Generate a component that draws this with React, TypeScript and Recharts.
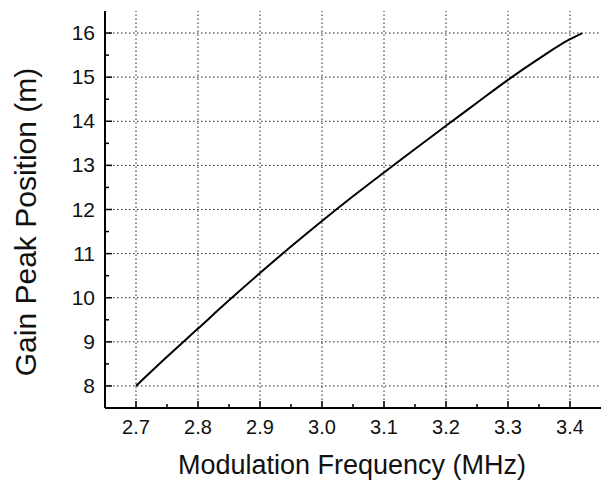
import React from 'react';
import { LineChart, Line, XAxis, YAxis, ReferenceLine, Label } from 'recharts';

// modulation frequency (MHz) and gain peak position (m)
const freq = [2.7, 2.75, 2.8, 2.85, 2.9, 2.95, 3.0, 3.05, 3.1, 3.15, 3.2, 3.25, 3.3, 3.35, 3.4, 3.42];
const gainPeak = [8.0, 8.66, 9.3, 9.94, 10.56, 11.16, 11.74, 12.3, 12.84, 13.37, 13.9, 14.42, 14.94, 15.42, 15.86, 16.0];

const xMajor = [2.7, 2.8, 2.9, 3.0, 3.1, 3.2, 3.3, 3.4];
const xTicks = [2.7, 2.75, 2.8, 2.85, 2.9, 2.95, 3.0, 3.05, 3.1, 3.15, 3.2, 3.25, 3.3, 3.35, 3.4];
const yMajor = [8, 9, 10, 11, 12, 13, 14, 15, 16];
const yTicks = [8, 8.5, 9, 9.5, 10, 10.5, 11, 11.5, 12, 12.5, 13, 13.5, 14, 14.5, 15, 15.5, 16];

const data = freq.map((f, i) => ({ f, g: gainPeak[i] }));

const FONT = '"Liberation Sans", Arial, Helvetica, sans-serif';
const MAJOR = 7;
const MINOR = 4;

const isMajor = (v: number, step: number) => Math.abs(v / step - Math.round(v / step)) < 1e-6;

const BottomTick = ({ x, y, payload }: any) => {
  const major = isMajor(payload.value, 0.1);
  return (
    <g>
      <line x1={x} x2={x} y1={y} y2={y - (major ? MAJOR : MINOR)} stroke="#000" strokeWidth={1.5} />
      {major && (
        <text x={x} y={y + 26} textAnchor="middle" fontSize={20} fontFamily={FONT} fill="#111">
          {payload.value.toFixed(1)}
        </text>
      )}
    </g>
  );
};

const TopTick = ({ x, y, payload }: any) => {
  const major = isMajor(payload.value, 0.1);
  return <line x1={x} x2={x} y1={y} y2={y + (major ? MAJOR : MINOR)} stroke="#000" strokeWidth={1.5} />;
};

const LeftTick = ({ x, y, payload }: any) => {
  const major = isMajor(payload.value, 1);
  return (
    <g>
      <line x1={x} x2={x + (major ? MAJOR : MINOR)} y1={y} y2={y} stroke="#000" strokeWidth={1.5} />
      {major && (
        <text x={x - 10} y={y + 7} textAnchor="end" fontSize={21} fontFamily={FONT} fill="#111">
          {payload.value}
        </text>
      )}
    </g>
  );
};

const RightTick = ({ x, y, payload }: any) => {
  const major = isMajor(payload.value, 1);
  return <line x1={x} x2={x - (major ? MAJOR : MINOR)} y1={y} y2={y} stroke="#000" strokeWidth={1.5} />;
};

const grid = { stroke: '#222', strokeDasharray: '1.5 2.5', strokeWidth: 1 };

export default function App() {
  return (
    <div style={{ position: 'absolute', left: 0, top: 0, width: 613, height: 482, background: '#fff' }}>
      <LineChart width={613} height={482} data={data} margin={{ top: 11, right: 12, bottom: 0, left: 0 }}>
        <XAxis
          dataKey="f"
          type="number"
          domain={[2.65, 3.45]}
          ticks={xTicks}
          height={74}
          tickSize={0}
          tickMargin={0}
          tickLine={false}
          tick={<BottomTick />}
          interval={0}
          axisLine={{ stroke: '#000', strokeWidth: 2 }}
        >
          <Label
            content={() => (
              <text x={352} y={474} textAnchor="middle" fontSize={27} fontFamily={FONT} fill="#111">
                Modulation Frequency (MHz)
              </text>
            )}
          />
        </XAxis>
        <XAxis
          xAxisId="top"
          orientation="top"
          dataKey="f"
          type="number"
          domain={[2.65, 3.45]}
          ticks={xTicks}
          height={0}
          tickSize={0}
          tickMargin={0}
          tickLine={false}
          tick={<TopTick />}
          interval={0}
          axisLine={{ stroke: '#000', strokeWidth: 2 }}
        />
        <YAxis
          type="number"
          domain={[7.5, 16.5]}
          ticks={yTicks}
          width={105}
          tickSize={0}
          tickMargin={0}
          tickLine={false}
          tick={<LeftTick />}
          interval={0}
          axisLine={{ stroke: '#000', strokeWidth: 2 }}
        >
          <Label
            content={() => (
              <text
                x={36}
                y={222}
                transform="rotate(-90 36 222)"
                textAnchor="middle"
                fontSize={30}
                fontFamily={FONT}
                fill="#111"
              >
                Gain Peak Position (m)
              </text>
            )}
          />
        </YAxis>
        <YAxis
          yAxisId="right"
          orientation="right"
          type="number"
          domain={[7.5, 16.5]}
          ticks={yTicks}
          width={0}
          tickSize={0}
          tickMargin={0}
          tickLine={false}
          tick={<RightTick />}
          interval={0}
          axisLine={{ stroke: '#000', strokeWidth: 2 }}
        />
        {xMajor.map((v) => (
          <ReferenceLine key={'x' + v} x={v} {...grid} />
        ))}
        {yMajor.map((v) => (
          <ReferenceLine key={'y' + v} y={v} {...grid} />
        ))}
        <Line
          type="monotone"
          dataKey="g"
          stroke="#000"
          strokeWidth={2}
          dot={false}
          isAnimationActive={false}
        />
      </LineChart>
    </div>
  );
}
